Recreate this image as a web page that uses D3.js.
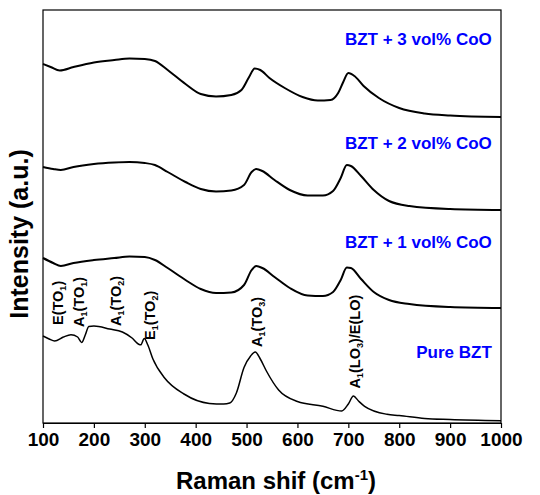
<!DOCTYPE html>
<html>
<head>
<meta charset="utf-8">
<script src="https://cdn.jsdelivr.net/npm/d3@7"></script>
<style>
body { margin: 0; background: #fff; }
text { font-family: "Liberation Sans", Arial, sans-serif; font-weight: bold; }
</style>
</head>
<body>
<div id="chart"></div>
<script>
var width = 540;
var height = 495;
var margin = {top: 10, right: 39, bottom: 72, left: 43};

// Raman shift (cm-1) sampling points and intensities (a.u., stacked offsets)
var shift3 = [100, 115, 133, 160, 200, 240, 270, 300, 320, 345, 380, 410, 440, 470, 490, 505, 516, 527, 545, 575, 610, 640, 665, 680, 690, 700, 712, 730, 760, 800, 850, 900, 1000];
var coo3 = [359, 356, 352.5, 356, 360.5, 363, 364.5, 364, 362, 353, 339, 329, 326.5, 328, 333, 346, 354.5, 353, 345, 335, 326, 322.5, 323, 330, 341, 350, 347, 337, 325, 315, 309.5, 307.5, 306];

var shift2 = [100, 120, 135, 160, 200, 240, 270, 300, 320, 345, 380, 410, 440, 470, 495, 510, 519, 531, 555, 585, 620, 650, 670, 685, 697, 705, 725, 750, 780, 820, 900, 1000];
var coo2 = [256, 254, 253, 256, 259, 260.5, 261, 260, 258, 251, 241, 234, 231.5, 232.5, 238, 251, 254, 252, 243, 233, 227.5, 227.5, 232, 245, 258, 257, 247, 233, 222, 217, 214, 213];

var shift1 = [100, 120, 135, 160, 200, 240, 270, 300, 320, 345, 380, 410, 440, 470, 495, 510, 519, 531, 555, 585, 620, 650, 670, 685, 697, 705, 725, 750, 780, 820, 900, 1000];
var coo1 = [165, 160, 157, 160, 163, 165, 166.5, 166, 163, 155, 143, 134, 130, 130.5, 138, 153, 157, 155, 146, 135, 127.5, 127, 131, 143, 155.5, 155, 144, 131, 123, 119, 116, 115];

var shift0 = [100, 112, 123, 140, 155, 168, 176, 183, 190, 200, 231, 256, 275, 288, 292, 299, 306, 316, 339, 377, 427, 455, 467, 480, 495, 508, 517, 527, 539, 563, 600, 650, 687, 700, 710, 720, 732, 776, 800, 850, 900, 1000];
var pure = [87, 84, 82, 86, 88.3, 86, 80.4, 88, 96.5, 97, 94, 91, 85, 78.8, 78.2, 84.5, 78, 64, 45, 29, 19.6, 19, 20, 30, 55.5, 67, 71, 64, 52, 33, 21.5, 16.7, 12, 19, 27, 22, 16.7, 8.7, 7.5, 4.5, 3.5, 2.3];

var seriesNames = ["BZT + 3 vol% CoO", "BZT + 2 vol% CoO", "BZT + 1 vol% CoO", "Pure BZT"];
var seriesLabelLevel = [378, 274.5, 175.5, 65];

// vibrational mode labels ("_" marks a one-character subscript)
var modeNames = ["E(TO_1)", "A_1(TO_1)", "A_1(TO_2)", "E_1(TO_2)", "A_1(TO_3)", "A_1(LO_3)/E(LO)"];
var modeShift = [130, 171, 244, 310, 520, 713];
var modeLevel = [98, 96, 97, 83, 76, 34.5];

var xTicks = [100, 200, 300, 400, 500, 600, 700, 800, 900, 1000];

var svg = d3.select("#chart")
	.append("svg")
	.attr("width", width)
	.attr("height", height);

var x = d3.scaleLinear()
	.domain([100, 1000])
	.range([margin.left, width - margin.right]);

var y = d3.scaleLinear()
	.domain([0, 413])
	.range([height - margin.bottom, margin.top]);

var line = d3.line()
	.x(d => x(d[0]))
	.y(d => y(d[1]))
	.curve(d3.curveMonotoneX);

var spectra = [
	d3.zip(shift3, coo3),
	d3.zip(shift2, coo2),
	d3.zip(shift1, coo1),
	d3.zip(shift0, pure)
];

svg.append("g")
	.selectAll("path")
	.data(spectra)
	.enter()
	.append("path")
	.attr("d", line)
	.attr("fill", "none")
	.attr("stroke", "#000")
	.attr("stroke-width", (d, i) => i < 3 ? 2 : 1.5)
	.attr("stroke-linejoin", "round");

// frame
svg.append("rect")
	.attr("x", x(100))
	.attr("y", y(413))
	.attr("width", x(1000) - x(100))
	.attr("height", y(0) - y(413))
	.attr("fill", "none")
	.attr("stroke", "#000")
	.attr("stroke-width", 1.2);

var xAxis = svg.append("g")
	.attr("transform", "translate(0," + y(0) + ")")
	.call(d3.axisBottom(x).tickValues(xTicks).tickFormat(d3.format("d")).tickSize(5).tickSizeOuter(0).tickPadding(5));

xAxis.select(".domain").attr("stroke-width", 1.2);
xAxis.selectAll(".tick line").attr("stroke-width", 1.2);
xAxis.selectAll(".tick text")
	.attr("font-size", 19)
	.attr("font-family", "Liberation Sans, Arial, sans-serif")
	.attr("font-weight", "bold")
	.attr("fill", "#000");

// axis titles
var xTitle = svg.append("text")
	.attr("x", 276)
	.attr("y", 489)
	.attr("text-anchor", "middle")
	.attr("font-size", 24);
xTitle.append("tspan").text("Raman shif (cm");
xTitle.append("tspan").attr("font-size", 15).attr("dy", -9).text("-1");
xTitle.append("tspan").attr("dy", 9).text(")");

svg.append("text")
	.attr("transform", "translate(28,234) rotate(-90)")
	.attr("text-anchor", "middle")
	.attr("font-size", 25)
	.text("Intensity (a.u.)");

// series labels
svg.append("g")
	.selectAll("text")
	.data(seriesNames)
	.enter()
	.append("text")
	.attr("x", x(982))
	.attr("y", (d, i) => y(seriesLabelLevel[i]))
	.attr("text-anchor", "end")
	.attr("font-size", 17)
	.attr("fill", "#0000ff")
	.text(d => d);

// mode labels, rotated
var modeText = svg.append("g")
	.selectAll("text")
	.data(modeNames)
	.enter()
	.append("text")
	.attr("transform", (d, i) => "translate(" + (x(modeShift[i]) + 5) + "," + y(modeLevel[i]) + ") rotate(-90)")
	.attr("font-size", 14.5);

modeText.each(function(d) {
	var el = d3.select(this);
	var parts = d.split("_");
	el.append("tspan").text(parts[0]);
	for (var k = 1; k < parts.length; k++) {
		el.append("tspan").attr("font-size", 9).attr("dy", 3).text(parts[k].charAt(0));
		el.append("tspan").attr("dy", -3).text(parts[k].slice(1));
	}
});
</script>
</body>
</html>
